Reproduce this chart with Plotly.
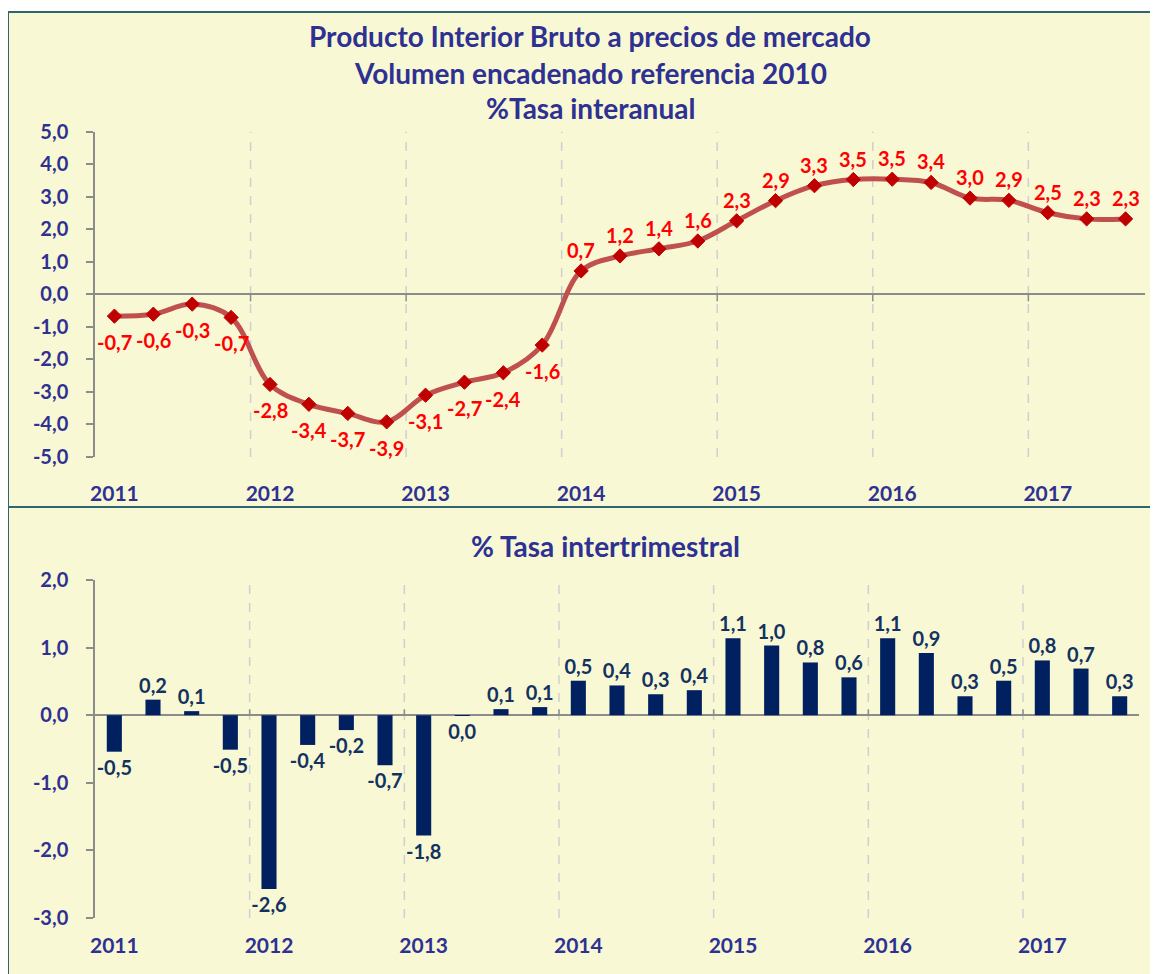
import plotly.graph_objects as go

years = ["2011", "2012", "2013", "2014", "2015", "2016", "2017"]
quarters = ["T1", "T2", "T3", "T4"]
periods = [f"{y} {q}" for y in years for q in quarters][:27]

interanual = [-0.67, -0.61, -0.30, -0.71,
              -2.77, -3.38, -3.66, -3.92,
              -3.10, -2.70, -2.41, -1.56,
              0.72, 1.18, 1.40, 1.64,
              2.26, 2.88, 3.34, 3.53,
              3.54, 3.44, 2.96, 2.89,
              2.51, 2.32, 2.32]

intertrimestral = [-0.54, 0.23, 0.06, -0.51,
                   -2.57, -0.44, -0.22, -0.74,
                   -1.78, -0.01, 0.09, 0.12,
                   0.51, 0.44, 0.31, 0.37,
                   1.14, 1.03, 0.78, 0.56,
                   1.14, 0.92, 0.28, 0.51,
                   0.81, 0.69, 0.28]

top_ticks = [5, 4, 3, 2, 1, 0, -1, -2, -3, -4, -5]
bottom_ticks = [2, 1, 0, -1, -2, -3]

title_lines = ["Producto Interior Bruto a precios de mercado",
               "Volumen encadenado referencia 2010",
               "%Tasa interanual"]
title_bottom = "% Tasa intertrimestral"

# page body has an 8px margin; figure sized to fit the window
OFF = 8
W, H = 1158 - OFF, 974 - OFF
FONT = "Lato"
INDIGO = "#2E3192"
NAVY = "#002060"
LINE_RED = "#C0504D"
MARK_RED = "#C00000"
LABEL_RED = "#FF0000"
BG = "#F8F8D5"
BORDER = "#2F6470"
AXIS_GREY = "#8C8C8C"


def fmt(v):
    return f"{round(v, 1) + 0.0:.1f}".replace(".", ",")


def px(x):
    return (x - OFF) / W


def py(y):
    return 1 - (y - OFF) / H


idx = list(range(len(periods)))
year_pos = [i for i in idx if i % 4 == 0]
year_txt = [periods[i].split()[0] for i in year_pos]

fig = go.Figure()

fig.add_trace(go.Scatter(
    x=idx, y=interanual, mode="lines+markers",
    line=dict(color=LINE_RED, width=5, shape="spline", smoothing=1.0),
    marker=dict(symbol="diamond", size=11, color=MARK_RED,
                line=dict(color=MARK_RED, width=1)),
    xaxis="x", yaxis="y", hoverinfo="skip", showlegend=False,
))

fig.add_trace(go.Bar(
    x=idx, y=intertrimestral, marker=dict(color=NAVY, line=dict(width=0)),
    width=0.39,
    text=[fmt(v) for v in intertrimestral], textposition="outside",
    textfont=dict(family=FONT, size=20, color="#13325F", weight="bold"),
    constraintext="none", cliponaxis=False,
    xaxis="x2", yaxis="y2", hoverinfo="skip", showlegend=False,
))

annotations = []
for i, v in zip(idx, interanual):
    annotations.append(dict(
        x=i, y=v, xref="x", yref="y", text=fmt(v), showarrow=False,
        font=dict(family=FONT, size=20, color=LABEL_RED, weight="bold"),
        yshift=21 if v >= 0 else -26, xanchor="center", yanchor="middle",
    ))

for t, yy in zip(title_lines, [36, 73, 108]):
    annotations.append(dict(
        x=px(590), y=py(yy), xref="paper", yref="paper", text=t,
        showarrow=False, xanchor="center", yanchor="middle",
        font=dict(family=FONT, size=28, color=INDIGO, weight="bold"),
    ))
annotations.append(dict(
    x=px(605), y=py(546), xref="paper", yref="paper", text=title_bottom,
    showarrow=False, xanchor="center", yanchor="middle",
    font=dict(family=FONT, size=28, color=INDIGO, weight="bold"),
))

shapes = [
    dict(type="rect", xref="paper", yref="paper", x0=px(8), x1=px(1175),
         y0=py(995), y1=py(12), fillcolor=BG,
         line=dict(color=BORDER, width=2), layer="below"),
    dict(type="line", xref="paper", yref="paper", x0=px(8), x1=1.0,
         y0=py(507), y1=py(507), line=dict(color=BORDER, width=2)),
]
for i in idx:
    if i % 4 == 0 and i > 0:
        for xr, yr in (("x", "y"), ("x2", "y2")):
            shapes.append(dict(
                type="line", xref=xr, yref=f"{yr} domain", x0=i - 0.5, x1=i - 0.5,
                y0=0, y1=1, line=dict(color="#CFCFCF", width=1.5, dash="dash"),
                layer="below"))
        # small category tick marks on the zero line
        shapes.append(dict(type="line", xref="x", yref="y", ysizemode="pixel",
                           yanchor=0, x0=i - 0.5, x1=i - 0.5, y0=-7, y1=0,
                           line=dict(color=AXIS_GREY, width=1.5)))
        shapes.append(dict(type="line", xref="x2", yref="y2", ysizemode="pixel",
                           yanchor=0, x0=i - 0.5, x1=i - 0.5, y0=0, y1=6,
                           line=dict(color=AXIS_GREY, width=1.5)))

axis_font = dict(family=FONT, size=20, color=INDIGO, weight="bold")
year_font = dict(family=FONT, size=21, color=INDIGO, weight="bold")

yaxis_common = dict(ticks="outside", ticklen=7,
                    tickcolor=AXIS_GREY, tickwidth=1.5, showline=True,
                    linecolor=AXIS_GREY, linewidth=1.5, showgrid=False,
                    zeroline=True, zerolinecolor=AXIS_GREY, zerolinewidth=1.5,
                    tickfont=axis_font, ticklabelstandoff=14, automargin=False)

fig.update_layout(
    width=W, height=H, margin=dict(l=0, r=0, t=0, b=0, autoexpand=False),
    paper_bgcolor="white", plot_bgcolor="white",
    separators=",.",
    showlegend=False,
    annotations=annotations, shapes=shapes,
    xaxis=dict(domain=[px(95), px(1145)], anchor="y", range=[-0.5, 26.5],
               tickvals=year_pos, ticktext=year_txt, ticks="outside",
               ticklen=18, tickcolor="rgba(0,0,0,0)", showgrid=False,
               zeroline=False, showline=False, tickfont=year_font,
               automargin=False),
    yaxis=dict(domain=[py(457), py(131.7)], anchor="x", range=[-5, 5],
               tickvals=top_ticks, ticktext=[fmt(t) for t in top_ticks],
               **yaxis_common),
    xaxis2=dict(domain=[px(95), px(1139)], anchor="y2", range=[-0.5, 26.5],
                tickvals=year_pos, ticktext=year_txt, ticks="outside",
                ticklen=9, tickcolor="rgba(0,0,0,0)", showgrid=False,
                zeroline=False, showline=False, tickfont=year_font,
                automargin=False),
    yaxis2=dict(domain=[py(918), py(580)], anchor="x2", range=[-3, 2],
                tickvals=bottom_ticks, ticktext=[fmt(t) for t in bottom_ticks],
                **yaxis_common),
)

fig.write_html("out.html")
